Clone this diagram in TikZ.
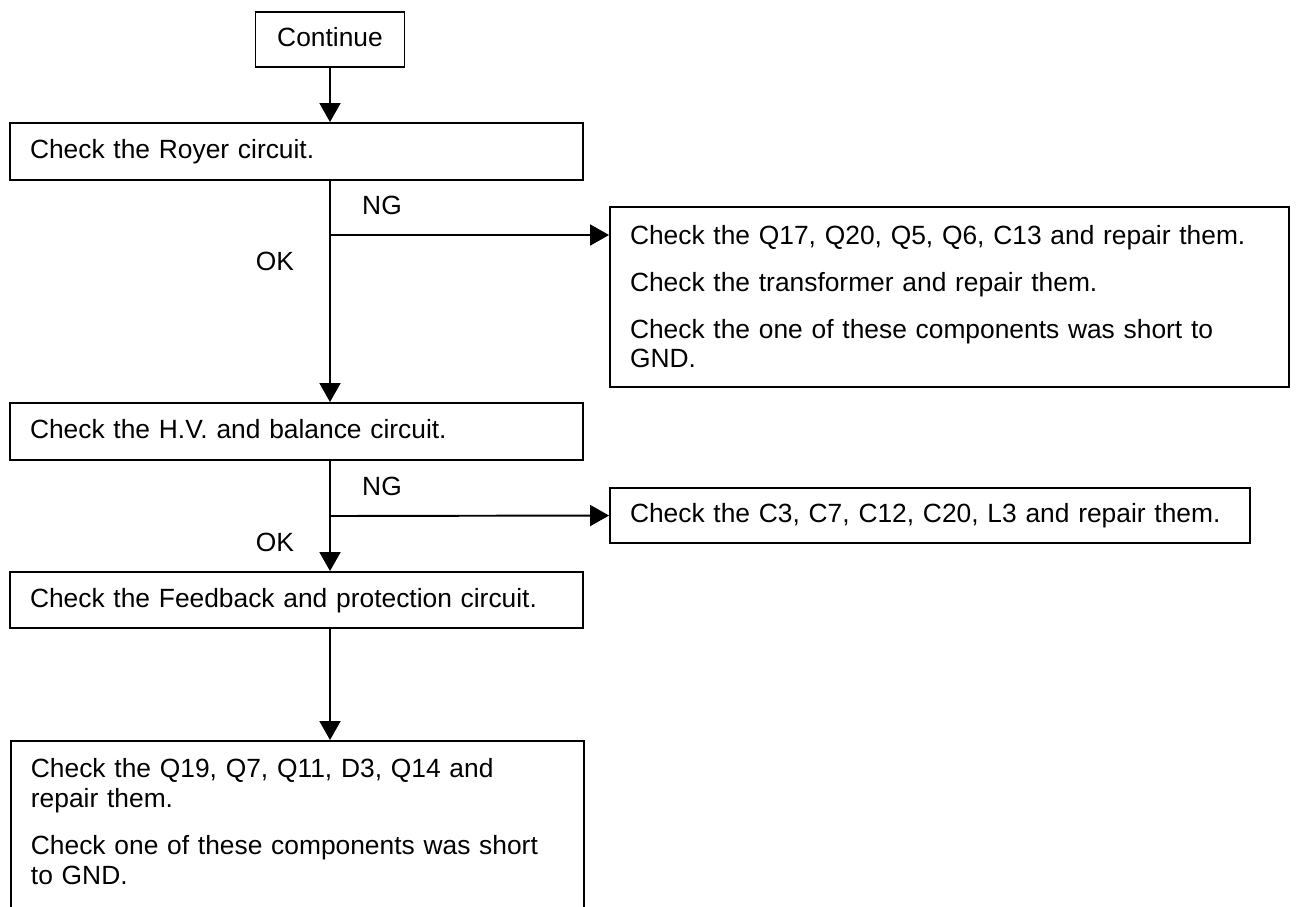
\documentclass[tikz,border=0pt]{standalone}
\usepackage{fontspec}
\setmainfont{Liberation Sans}
\usepackage{tikz}
\usetikzlibrary{arrows.meta, positioning, calc}
\tikzset{
  startbox/.style={rectangle, draw=black, minimum width=2.98cm,
    minimum height=1.10cm, text height=11pt, text depth=3pt, line width=1.1pt},
  chkbox/.style={rectangle, draw=black, text width=10.66cm, align=left,
    inner xsep=0.4cm, minimum height=1.14cm, text height=11pt, text depth=3pt,
    line width=1.1pt},
  notebox/.style={rectangle, draw=black, align=left, inner xsep=0.4cm,
    line width=1.1pt},
  lbl/.style={inner sep=0pt},
  arrow/.style={-{Triangle[length=0.38cm, width=0.42cm]}, line width=1.1pt, color=black}
}

\begin{document}
\begin{tikzpicture}[font=\fontsize{15pt}{17pt}\selectfont]
  \clip (0,0) rectangle (25.96,-18.12);

  \node[startbox] (cont)  at (6.6,-0.79) {Continue};
  \node[chkbox]   (royer) at (5.93,-3.03) {Check the Royer circuit.};
  \node[chkbox]   (hv)    at (5.93,-8.63) {Check the H.V. and balance circuit.};
  \node[chkbox, minimum height=1.12cm] (fb) at (5.93,-12.0)
    {Check the Feedback and protection circuit.};
  \node[notebox, text width=10.66cm, anchor=north west, inner ysep=0.355cm,
    text depth=3cm] (last) at (0.2,-14.8)
    {Check the Q19, Q7, Q11, D3, Q14 and\\ repair them.\\[9.5pt]
     Check one of these components was short\\ to GND.};

  \node[notebox, text width=12.78cm, minimum height=3.6cm] (ng1) at (18.99,-5.94)
    {Check the Q17, Q20, Q5, Q6, C13 and repair them.\\[9.5pt]
     Check the transformer and repair them.\\[9.5pt]
     Check the one of these components was short to\\ GND.};
  \node[notebox, text width=12.0cm, minimum height=1.1cm, text height=11pt,
    text depth=3pt] (ng2) at (18.6,-10.31) {Check the C3, C7, C12, C20, L3 and repair them.};

  \coordinate (j1) at (6.6,-4.7);
  \coordinate (j2) at (6.6,-10.32);

  % main line
  \draw[arrow] (cont.south) -- (cont.south |- royer.north);
  \draw[arrow] (royer.south -| cont.south) -- (hv.north -| cont.south);
  \draw[arrow] (hv.south -| cont.south) -- (fb.north -| cont.south);
  \draw[arrow] (fb.south -| cont.south) -- (last.north -| cont.south);

  % NG branches
  \draw[arrow] (j1) -- (j1 -| ng1.west);
  \draw[arrow] (j2) -- (ng2.west);

  \node[lbl] (ng1lbl) at (7.64,-4.10) {NG};
  \node[lbl] (ok1lbl) at (5.50,-5.22) {OK};
  \node[lbl] (ng2lbl) at (7.64,-9.72) {NG};
  \node[lbl] (ok2lbl) at (5.50,-10.84) {OK};
\end{tikzpicture}
\end{document}
